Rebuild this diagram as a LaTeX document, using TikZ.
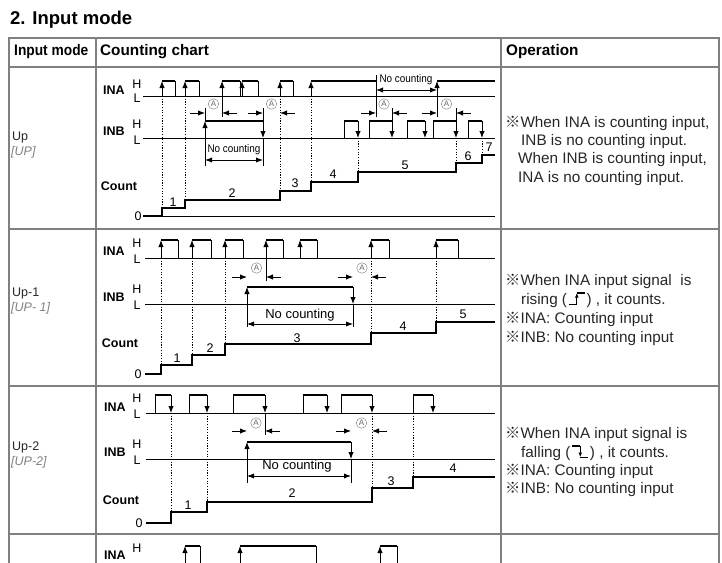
\documentclass[tikz,border=0pt]{standalone}
\usepackage{fontspec}
\setmainfont{Liberation Sans}
\newfontfamily\cjk{Noto Sans CJK SC}
\usetikzlibrary{arrows.meta, calc}
\tikzstyle{tablerule}=[draw=black!50, line width=1.6pt]
\tikzstyle{edgeline}=[line width=0.85pt]
\tikzstyle{hiline}=[line width=2.6pt]
\tikzstyle{lowline}=[line width=1pt]
\tikzstyle{countline}=[line width=1.8pt]
\tikzstyle{dotline}=[line width=0.85pt, dash pattern=on 1.2pt off 1.5pt]
\tikzstyle{arr}=[-{Latex[length=7pt,width=5.4pt]}]
\tikzstyle{smallarr}=[-{Latex[length=4.5pt,width=3.8pt]}]
\tikzstyle{spanarrow}=[line width=0.85pt, {Latex[length=7pt,width=5.2pt]}-{Latex[length=7pt,width=5.2pt]}]
\tikzstyle{sig}=[inner sep=0pt, font=\bfseries\fontsize{12.5}{14}\selectfont]
\tikzstyle{lbl}=[inner sep=0pt, font=\fontsize{12.5}{14}\selectfont]
\tikzstyle{num}=[inner sep=0pt, font=\fontsize{12.5}{14}\selectfont]
\tikzstyle{amark}=[draw=black!55, circle, inner sep=0pt, minimum size=10.5pt, text=black!60, font=\fontsize{8}{8}\selectfont]
\tikzstyle{nctext}=[inner sep=0pt, font=\fontsize{11}{12}\selectfont, xscale=0.9]
\tikzstyle{nctextb}=[inner sep=0pt, font=\fontsize{13}{14}\selectfont]
\tikzstyle{optext}=[inner sep=0pt, anchor=base west, text=black!85, font=\fontsize{15.3}{17}\selectfont]
\tikzstyle{head}=[inner sep=0pt, anchor=west, font=\bfseries\fontsize{15.3}{17}\selectfont]
\tikzstyle{modetext}=[inner sep=0pt, anchor=west, text=black!85, font=\fontsize{12.5}{14}\selectfont]
\tikzstyle{segtext}=[inner sep=0pt, anchor=west, text=black!50, font=\itshape\fontsize{12.5}{14}\selectfont]

\begin{document}
\begin{tikzpicture}[x=1pt,y=-1pt,>=latex]
\clip (0,0) rectangle (722,562);
\node[inner sep=0pt, anchor=west, font=\bfseries\fontsize{18.5}{20}\selectfont] (title) at (10,20) {2. Input mode};
% table
\draw[tablerule] (9,570) -- (9,38) -- (719,38) -- (719,570);
\draw[tablerule] (9,67) -- (719,67) (9,229) -- (719,229) (9,386) -- (719,386) (9,534) -- (719,534);
\draw[tablerule] (96,38) -- (96,570) (501,38) -- (501,570);
\node[head, xscale=0.9] (hmode) at (14,52) {Input mode};
\node[head] (hchart) at (100,52) {Counting chart};
\node[head] (hop) at (506,52) {Operation};
\node[modetext] (up) at (12,137) {Up};
\node[segtext] (upc) at (11,152) {[UP]};
\node[modetext] (up1) at (12,293) {Up-1};
\node[segtext] (up1c) at (11,308) {[UP- 1]};
\node[modetext] (up2) at (12,447) {Up-2};
\node[segtext] (up2c) at (11,462) {[UP-2]};

% Up
\node[sig] (ina1) at (114,90) {INA};
\node[lbl] (ina1h) at (137,84) {H};
\node[lbl] (ina1l) at (137,98) {L};
\node[sig] (inb1) at (114,131) {INB};
\node[lbl] (inb1h) at (137,124) {H};
\node[lbl] (inb1l) at (137,140) {L};
\node[sig] (cnt1) at (119,186) {Count};
\node[lbl] (zero1) at (138,216) {0};
\draw[lowline] (143,96) -- (495,96);
\draw[lowline] (143,138) -- (495,138);
\draw[lowline] (143,216) -- (495,216);
\foreach \a/\b in {162/175,185/199,222/240,242/258,280/293,311/376}{
  \draw[edgeline,arr] (\a,96) -- (\a,81);
  \draw[hiline] (\a,81) -- (\b,81);
  \draw[edgeline] (\b,81) -- (\b,96);
}
\draw[edgeline,arr] (437,96) -- (437,81);
\draw[hiline] (437,81) -- (495,81);
\draw[edgeline,arr] (205,138) -- (205,121);
\draw[hiline] (205,121) -- (263,121);
\draw[edgeline,arr] (263,121) -- (263,138);
\foreach \a/\b in {344/358,369/392,407/425,433/456,468/482}{
  \draw[edgeline] (\a,138) -- (\a,121);
  \draw[hiline] (\a,121) -- (\b,121);
  \draw[edgeline,arr] (\b,121) -- (\b,138);
}
\draw[countline] (143,216) -| (162,208) -| (185,200) -| (280,191) -| (311,182) -| (358,172) -| (456,163) -| (482,155) -- (495,155);
\foreach \x/\y in {162/208,185/200,280/191,311/182} \draw[dotline] (\x,96) -- (\x,\y);
\foreach \x/\y in {358/172,456/163,482/155} \draw[dotline] (\x,138) -- (\x,\y);
\foreach \n/\x/\y in {1/173/202,2/232/193,3/295/183,4/333/174,5/405/165,6/468/156,7/489/147}
  \node[num] (c1\n) at (\x,\y) {\n};
\draw[edgeline] (205,108) -- (205,121) (205,138) -- (205,166);
\draw[edgeline] (222,96) -- (222,117);
\draw[edgeline] (263,108) -- (263,121) (263,138) -- (263,166);
\draw[edgeline] (376,75) -- (376,81) (376,96) -- (376,117);
\draw[edgeline] (392,108) -- (392,121);
\draw[edgeline] (437,96) -- (437,117);
\draw[edgeline] (456,108) -- (456,121);
\foreach \l/\r in {205/222,263/280,376/392,437/456}{
  \draw[edgeline,arr] (\l-15,113) -- (\l,113);
  \draw[edgeline,arr] (\r+15,113) -- (\r,113);
  \node[amark] (am1\l) at ({(\l+\r)/2},104) {A};
}
\draw[spanarrow] (205,160) -- (263,160);
\node[nctext] (nc1) at (234,150) {No counting};
\draw[spanarrow] (376,90) -- (437,90);
\node[nctext] (nc1t) at (406,80) {No counting};

% Up-1
\node[sig] (ina2) at (114,251) {INA};
\node[lbl] (ina2h) at (137,243) {H};
\node[lbl] (ina2l) at (137,259) {L};
\node[sig] (inb2) at (114,297) {INB};
\node[lbl] (inb2h) at (137,289) {H};
\node[lbl] (inb2l) at (137,305) {L};
\node[sig] (cnt2) at (120,343) {Count};
\node[lbl] (zero2) at (138,374) {0};
\draw[lowline] (145,258) -- (495,258);
\draw[lowline] (145,304) -- (495,304);
\foreach \a/\b in {161/178,192/211,225/243,266/283,300/317,371/389,436/458}{
  \draw[edgeline,arr] (\a,258) -- (\a,240);
  \draw[hiline] (\a,240) -- (\b,240);
  \draw[edgeline] (\b,240) -- (\b,258);
}
\draw[edgeline,arr] (247,304) -- (247,287);
\draw[hiline] (247,287) -- (353,287);
\draw[edgeline,arr] (353,287) -- (353,304);
\draw[countline] (145,374) -| (161,365) -| (192,355) -| (225,344) -| (371,333) -| (436,322) -- (495,322);
\foreach \x/\y in {161/365,192/355,225/344,371/333,436/322} \draw[dotline] (\x,258) -- (\x,\y);
\foreach \n/\x/\y in {1/177/358,2/210/348,3/297/338,4/403/326,5/463/314}
  \node[num] (c2\n) at (\x,\y) {\n};
\draw[edgeline] (247,304) -- (247,327) (266,258) -- (266,281) (353,304) -- (353,327);
\foreach \l/\r in {247/266,353/371}{
  \draw[edgeline,arr] (\l-15,277) -- (\l,277);
  \draw[edgeline,arr] (\r+15,277) -- (\r,277);
  \node[amark] (am2\l) at ({(\l+\r)/2},268) {A};
}
\draw[spanarrow] (247,324) -- (353,324);
\node[nctextb] (nc2) at (300,315) {No counting};

% Up-2
\node[sig] (ina3) at (115,407) {INA};
\node[lbl] (ina3h) at (137,398) {H};
\node[lbl] (ina3l) at (137,414) {L};
\node[sig] (inb3) at (115,452) {INB};
\node[lbl] (inb3h) at (137,444) {H};
\node[lbl] (inb3l) at (137,460) {L};
\node[sig] (cnt3) at (121,500) {Count};
\node[lbl] (zero3) at (139,523) {0};
\draw[lowline] (146,413) -- (495,413);
\draw[lowline] (146,459) -- (495,459);
\foreach \a/\b in {155/171,189/207,233/265,303/327,341/372,413/433}{
  \draw[edgeline] (\a,413) -- (\a,395);
  \draw[hiline] (\a,395) -- (\b,395);
  \draw[edgeline,arr] (\b,395) -- (\b,413);
}
\draw[edgeline,arr] (247,459) -- (247,442);
\draw[hiline] (247,442) -- (351,442);
\draw[edgeline,arr] (351,442) -- (351,459);
\draw[countline] (146,523) -| (171,512) -| (207,502) -| (372,488) -| (413,477) -- (495,477);
\foreach \x/\y in {171/512,207/502,372/488,413/477} \draw[dotline] (\x,413) -- (\x,\y);
\foreach \n/\x/\y in {1/188/505,2/292/493,3/391/481,4/453/468}
  \node[num] (c3\n) at (\x,\y) {\n};
\draw[edgeline] (247,459) -- (247,483) (265,413) -- (265,435) (351,459) -- (351,483);
\foreach \l/\r in {247/265,351/372}{
  \draw[edgeline,arr] (\l-15,431) -- (\l,431);
  \draw[edgeline,arr] (\r+15,431) -- (\r,431);
  \node[amark] (am3\l) at ({(\l+\r)/2},423) {A};
}
\draw[spanarrow] (247,476) -- (351,476);
\node[nctextb] (nc3) at (297,466) {No counting};

% next row, cut off
\node[sig] (ina4) at (115,555) {INA};
\node[lbl] (ina4h) at (137,548) {H};
\foreach \a/\b in {185/200,240/316,380/397}{
  \draw[edgeline,arr] (\a,570) -- (\a,546);
  \draw[hiline] (\a,546) -- (\b,546);
  \draw[edgeline] (\b,546) -- (\b,570);
}

% operation
\node[optext] (op1a) at (505,127) {{\cjk ※}When INA is counting input,};
\node[optext] (op1b) at (521,145) {INB is no counting input.};
\node[optext] (op1c) at (518,163.5) {When INB is counting input,};
\node[optext] (op1d) at (518,182) {INA is no counting input.};
\node[optext] (op2a) at (505,285) {{\cjk ※}When INA input signal\ \ is};
\node[optext] (op2b) at (521,304) {rising (};
\coordinate (rg) at ($(op2b.base east)+(1.5,0)$);
\draw[edgeline] (rg) -- ++(8,0);
\draw[edgeline,smallarr] ($(rg)+(8,0)$) -- ++(0,-11);
\draw[line width=1.7pt] ($(rg)+(8,-11)$) -- ++(8,0);
\node[optext] (op2c) at ($(op2b.base east)+(19,0)$) {) , it counts.};
\node[optext] (op2d) at (505,323) {{\cjk ※}INA: Counting input};
\node[optext] (op2e) at (505,342) {{\cjk ※}INB: No counting input};
\node[optext] (op3a) at (505,438) {{\cjk ※}When INA input signal is};
\node[optext] (op3b) at (521,457) {falling (};
\coordinate (fg) at ($(op3b.base east)+(1.5,0)$);
\draw[line width=1.7pt] ($(fg)+(0,-11)$) -- ++(8,0);
\draw[edgeline,smallarr] ($(fg)+(8,-11)$) -- ++(0,11);
\draw[edgeline] ($(fg)+(8,0)$) -- ++(8,0);
\node[optext] (op3c) at ($(op3b.base east)+(19,0)$) {) , it counts.};
\node[optext] (op3d) at (505,475) {{\cjk ※}INA: Counting input};
\node[optext] (op3e) at (505,493) {{\cjk ※}INB: No counting input};
\end{tikzpicture}
\end{document}
